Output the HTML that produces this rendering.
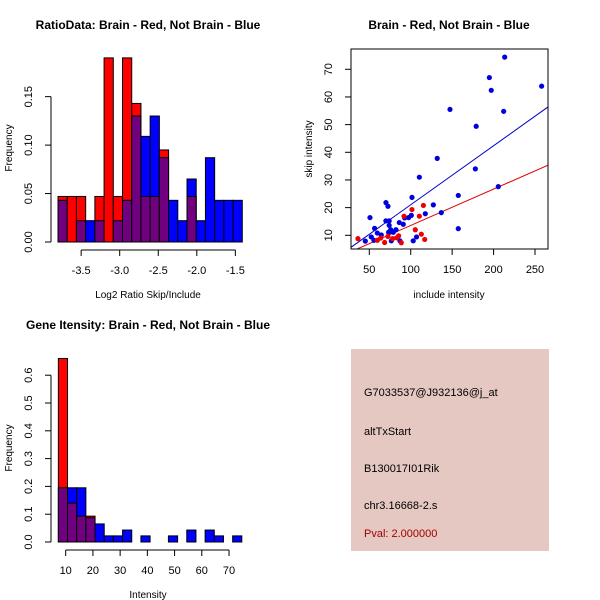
<!DOCTYPE html>
<html><head><meta charset="utf-8"><style>
html,body{margin:0;padding:0;background:#fff}
svg{display:block;font-family:"Liberation Sans",sans-serif}
</style></head><body>
<svg id="s" width="600" height="600" xmlns="http://www.w3.org/2000/svg">
<rect width="600" height="600" fill="#fff"/>
<g id="p1"></g>
<g id="p2"></g>
<g id="p3"></g>
<g>
<rect x="351" y="349" width="198" height="202" fill="#e5c8c2"/>
<text x="364" y="396" font-size="11">G7033537@J932136@j_at</text>
<text x="364" y="435" font-size="11">altTxStart</text>
<text x="364" y="472" font-size="11">B130017I01Rik</text>
<text x="364" y="509" font-size="11">chr3.16668-2.s</text>
<text x="364" y="537" font-size="11" fill="#a00000">Pval: 2.000000</text>
</g>
</svg>
<script>
// Panel 1 data
const ratioBinStart=-3.8, ratioBinWidth=0.1195;
const ratioRed=[0.047,0.047,0.047,0,0.047,0.19,0.047,0.19,0.143,0.047,0.047,0.095,0,0,0.047,0,0,0,0,0];
const ratioBlue=[0.043,0,0.022,0.022,0.022,0,0.022,0.043,0.13,0.109,0.13,0.087,0.043,0.022,0.065,0.022,0.087,0.043,0.043,0.043];
const ratioXTicks=[-3.5,-3.0,-2.5,-2.0,-1.5];
const ratioXLabels=["-3.5","-3.0","-2.5","-2.0","-1.5"];
const ratioYTicks=[0,0.05,0.10,0.15];
const ratioYLabels=["0.00","0.05","0.10","0.15"];
// Panel 2 data
const blueX=[45.2,50.8,52.4,55.6,56.4,59.7,64.5,70.1,72.5,70,74,74,73.3,75.8,76.6,79,82.2,86.2,91,92.7,97.5,100.7,101.5,103,107,110.4,117.6,127.3,132,136.9,147.4,157.4,157.4,178,179,194.9,197.2,205.7,212.2,213.4,258,87];
const blueY=[7.9,16.4,9.4,8.2,12.5,10.8,10.1,21.8,20.5,15.2,15.2,13.6,11.1,12,8,11.1,12,14.6,14,16.3,16.4,17.2,23.7,8,9.4,31,17.8,21,37.8,18.2,55.5,24.4,12.4,34,49.4,67,62.4,27.6,54.8,74.4,63.9,8];
const redX=[36.3,59.7,63.7,68.5,72.5,78.2,85.4,88.6,91.9,101.5,105.5,110.4,112.8,115.3,116.9,83];
const redY=[8.8,8.2,9,7.4,9.6,8.8,9.8,7.3,16.9,19.3,12,16.9,10.4,20.8,8.5,9.1];
const blueFit=[-0.29,0.2133];
const redFit=[0.43,0.1313];
const scXTicks=[50,100,150,200,250];
const scYTicks=[10,20,30,40,50,60,70];
// Panel 3 data
const intBinStart=7.3, intBinWidth=3.37;
const intRed=[0.66,0.14,0.093,0.093,0,0,0,0,0,0,0,0,0,0,0,0,0,0,0,0];
const intBlue=[0.195,0.195,0.195,0.087,0.065,0.022,0.022,0.043,0,0.022,0,0,0.022,0,0.043,0,0.043,0.022,0,0.022];
const intXTicks=[10,20,30,40,50,60,70];
const intYTicks=[0,0.1,0.2,0.3,0.4,0.5,0.6];
const intYLabels=["0.0","0.1","0.2","0.3","0.4","0.5","0.6"];

const NS="http://www.w3.org/2000/svg";
function mk(parent,tag,attrs,txt){const e=document.createElementNS(NS,tag);for(const k in attrs)e.setAttribute(k,attrs[k]);if(txt!==undefined)e.textContent=txt;parent.appendChild(e);return e;}
const RED="#ff0000",BLUE="#0000ff",PURP="#700080";

function hist(g,opts){
  const {sx,sy,start,w,red,blue}=opts;
  for(let i=0;i<red.length;i++){
    const x0=sx(start+i*w),x1=sx(start+(i+1)*w);
    const r=red[i],b=blue[i],mx=Math.max(r,b),mn=Math.min(r,b);
    if(mx>0){
      const e=mk(g,'rect',{x:x0,y:sy(mx),width:x1-x0,height:sy(0)-sy(mx),fill:r>=b?RED:BLUE,stroke:'#000','stroke-width':1});
      
      
    }
    if(mn>0){
      const e=mk(g,'rect',{x:x0,y:sy(mn),width:x1-x0,height:sy(0)-sy(mn),fill:PURP,stroke:'#000','stroke-width':1});
      
      
    }
  }
}
function yAxis(g,x,sy,ticks,labels){
  mk(g,'line',{x1:x,x2:x,y1:sy(ticks[0]),y2:sy(ticks[ticks.length-1]),stroke:'#000'});
  ticks.forEach((t,i)=>{const y=sy(t);mk(g,'line',{x1:x-6,x2:x,y1:y,y2:y,stroke:'#000'});
    const tx=mk(g,'text',{x:x-19,y:y,'font-size':11,'text-anchor':'middle',transform:`rotate(-90 ${x-19} ${y})`},labels[i]);
    
    });
}
function xAxis(g,y,sx,ticks,labels){
  mk(g,'line',{x1:sx(ticks[0]),x2:sx(ticks[ticks.length-1]),y1:y,y2:y,stroke:'#000'});
  ticks.forEach((t,i)=>{const x=sx(t);mk(g,'line',{x1:x,x2:x,y1:y,y2:y+6,stroke:'#000'});
    const tx=mk(g,'text',{x:x,y:y+24,'font-size':11,'text-anchor':'middle'},labels[i]);
    
    });
}
function title(g,x,y,s){const t=mk(g,'text',{x:x,y:y,'font-size':12,'font-weight':'bold','text-anchor':'middle'},s);
  
  }
function lbl(g,x,y,s,rot){const t=mk(g,'text',{x:x,y:y,'font-size':10,'text-anchor':'middle',transform:rot?`rotate(-90 ${x} ${y})`:''},s);
  
  }

// Panel 1
(function(){
  const g=document.getElementById('p1');
  const sx=v=>119.7+(v+3.0)*77.1, sy=v=>242-v*969;
  hist(g,{sx,sy,start:ratioBinStart,w:ratioBinWidth,red:ratioRed,blue:ratioBlue});
  yAxis(g,51,sy,ratioYTicks,ratioYLabels);
  xAxis(g,250,sx,ratioXTicks,ratioXLabels);
  title(g,148,29,'RatioData: Brain - Red, Not Brain - Blue');
  lbl(g,148,298,'Log2 Ratio Skip/Include');
  lbl(g,12,148,'Frequency',true);
})();
// Panel 2
(function(){
  const g=document.getElementById('p2');
  const sx=v=>369.3+(v-50)*0.8285, sy=v=>235.3-(v-10)*2.767;
  const L=351,R=548,T=49,B=249;
  const xmin=(L-369.3)/0.8285+50,xmax=(R-369.3)/0.8285+50;
  const defs=mk(g,'defs',{});const cl=mk(defs,'clipPath',{id:'clip2'});mk(cl,'rect',{x:L,y:T,width:R-L,height:B-T});
  [[blueFit,'#0000cc'],[redFit,'#dd0000']].forEach(([f,c])=>{
    const cp=mk(g,'line',{x1:sx(xmin),y1:sy(f[0]+f[1]*xmin),x2:sx(xmax),y2:sy(f[0]+f[1]*xmax),stroke:c,'stroke-width':1,'clip-path':'url(#clip2)'});
    
    
  });
  blueX.forEach((x,i)=>{const c=mk(g,'circle',{cx:sx(x),cy:sy(blueY[i]),r:2.6,fill:'#0000dd'});
    
    });
  redX.forEach((x,i)=>{const c=mk(g,'circle',{cx:sx(x),cy:sy(redY[i]),r:2.6,fill:'#ee0000'});
    
    });
  mk(g,'rect',{x:L,y:T,width:R-L,height:B-T,fill:'none',stroke:'#000'});
  scXTicks.forEach(t=>{const x=sx(t);mk(g,'line',{x1:x,x2:x,y1:B,y2:B+6,stroke:'#000'});
    const tx=mk(g,'text',{x:x,y:B+24,'font-size':11,'text-anchor':'middle'},String(t));
    
    });
  scYTicks.forEach(t=>{const y=sy(t);mk(g,'line',{x1:L-6,x2:L,y1:y,y2:y,stroke:'#000'});
    const tx=mk(g,'text',{x:L-19,y:y,'font-size':11,'text-anchor':'middle',transform:`rotate(-90 ${L-19} ${y})`},String(t));
    
    });
  title(g,449,29,'Brain - Red, Not Brain - Blue');
  lbl(g,449,298,'include intensity');
  lbl(g,312,149,'skip intensity',true);
})();
// Panel 3
(function(){
  const g=document.getElementById('p3');
  const sx=v=>65.7+(v-10)*2.722, sy=v=>542-v*278;
  hist(g,{sx,sy,start:intBinStart,w:intBinWidth,red:intRed,blue:intBlue});
  yAxis(g,51,sy,intYTicks,intYLabels);
  xAxis(g,550,sx,intXTicks,intXTicks.map(String));
  title(g,148,329,'Gene Itensity: Brain - Red, Not Brain - Blue');
  lbl(g,148,598,'Intensity');
  lbl(g,12,448,'Frequency',true);
})();
</script>
</body></html>
